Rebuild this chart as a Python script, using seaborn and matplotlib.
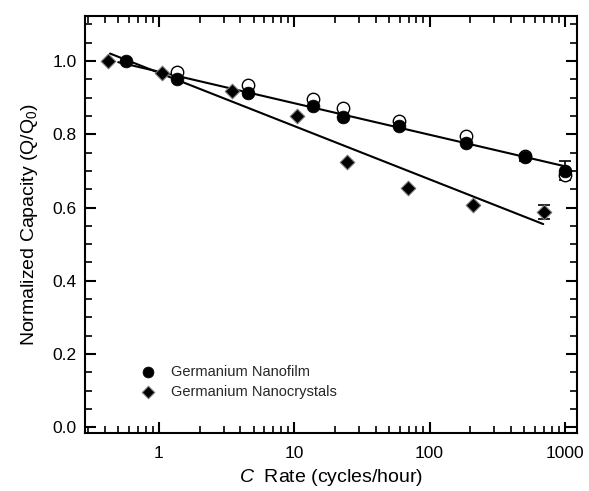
import numpy as np
import pandas as pd
import matplotlib
matplotlib.use("Agg")
import matplotlib.pyplot as plt
import seaborn as sns

# --- data ---
film_rate = [0.567, 1.37, 4.57, 13.8, 23.0, 59.7, 185, 507, 1000]
film_cap = [1.000, 0.951, 0.913, 0.877, 0.848, 0.822, 0.777, 0.737, 0.700]
film_err = [0, 0, 0, 0, 0, 0, 0, 0.010, 0.026]
film_open_rate = [1.37, 4.57, 13.8, 23.0, 59.7, 185, 507, 1000]
film_open_cap = [0.971, 0.936, 0.897, 0.873, 0.837, 0.795, 0.740, 0.690]

nc_rate = [0.42, 1.05, 3.48, 10.4, 24.4, 69.6, 208, 701]
nc_cap = [1.000, 0.968, 0.918, 0.850, 0.725, 0.653, 0.608, 0.588]
nc_err = [0, 0, 0, 0, 0, 0, 0, 0.020]

# linear fits in log10(rate): y = a + b*log10(x)
film_fit_a, film_fit_b = 0.971, -0.0861
film_fit_range = [0.5, 1050]
nc_fit_a, nc_fit_b = 0.968, -0.1455
nc_fit_range = [0.435, 692]

x_ticks = [1, 10, 100, 1000]
x_ticklabels = ["1", "10", "100", "1000"]
y_ticks = [0.0, 0.2, 0.4, 0.6, 0.8, 1.0]

sns.set_theme(style="ticks")
plt.rcParams["font.family"] = ["Liberation Sans", "DejaVu Sans"]
plt.rcParams["mathtext.fontset"] = "custom"
plt.rcParams["mathtext.rm"] = "Liberation Sans"
plt.rcParams["mathtext.it"] = "Liberation Sans:italic"

fig = plt.figure(figsize=(5.89, 4.91), dpi=100)
ax = fig.add_axes([85 / 589, 1 - 433 / 491, (577 - 85) / 589, (433 - 15.7) / 491])

# fit lines
xf1 = np.logspace(np.log10(film_fit_range[0]), np.log10(film_fit_range[1]), 50)
xf2 = np.logspace(np.log10(nc_fit_range[0]), np.log10(nc_fit_range[1]), 50)
fit_df1 = pd.DataFrame({"x": xf1, "y": film_fit_a + film_fit_b * np.log10(xf1)})
fit_df2 = pd.DataFrame({"x": xf2, "y": nc_fit_a + nc_fit_b * np.log10(xf2)})
sns.lineplot(data=fit_df1, x="x", y="y", color="black", lw=1.5, ax=ax, zorder=2)
sns.lineplot(data=fit_df2, x="x", y="y", color="black", lw=1.5, ax=ax, zorder=2)

# error bars
ax.errorbar(film_rate, film_cap, yerr=film_err, fmt="none", ecolor="black",
            elinewidth=1.2, capsize=4, capthick=1.2, zorder=3)
ax.errorbar(nc_rate, nc_cap, yerr=nc_err, fmt="none", ecolor="black",
            elinewidth=1.2, capsize=4, capthick=1.2, zorder=3)

# open circles
df_open = pd.DataFrame({"x": film_open_rate, "y": film_open_cap})
sns.scatterplot(data=df_open, x="x", y="y", marker="o", s=80, facecolor="white",
                edgecolor="black", linewidth=1.0, ax=ax, zorder=3)

df_film = pd.DataFrame({"x": film_rate, "y": film_cap})
df_nc = pd.DataFrame({"x": nc_rate, "y": nc_cap})
sns.scatterplot(data=df_film, x="x", y="y", marker="o", s=85, color="black",
                edgecolor="black", linewidth=0.5, ax=ax, zorder=4, label="Germanium Nanofilm")
sns.scatterplot(data=df_nc, x="x", y="y", marker="D", s=55, color="black",
                edgecolor="#777777", linewidth=0.8, ax=ax, zorder=4, label="Germanium Nanocrystals")

ax.set_xscale("log")
ax.set_xlim(0.284, 1230)
ax.set_ylim(-0.016, 1.124)
ax.set_xticks(x_ticks)
ax.set_xticklabels(x_ticklabels)
ax.set_yticks(y_ticks)
ax.set_yticklabels([f"{v:.1f}" for v in y_ticks])
ax.yaxis.set_minor_locator(matplotlib.ticker.MultipleLocator(0.05))
ax.xaxis.set_minor_locator(matplotlib.ticker.LogLocator(base=10, subs=np.arange(2, 10)))
ax.xaxis.set_minor_formatter(matplotlib.ticker.NullFormatter())

ax.tick_params(which="both", direction="in", top=True, right=True, color="black",
               labelsize=12.5, labelcolor="black")
ax.tick_params(which="major", length=8, width=1.5, pad=6)
ax.tick_params(axis="x", which="major", pad=9)
ax.tick_params(which="minor", length=5, width=1.2)
for sp in ax.spines.values():
    sp.set_linewidth(1.5)
    sp.set_color("black")

ax.set_xlabel("$\\mathit{C}$  Rate (cycles/hour)", fontsize=14, color="black", labelpad=5)
ax.set_ylabel("Normalized Capacity (Q/Q$_0$)", fontsize=14, color="black", labelpad=9)

leg = ax.legend(loc="lower left", bbox_to_anchor=(0.072, 0.051), frameon=False,
                fontsize=10.5, handletextpad=0.6, labelspacing=0.4, markerscale=0.85)

fig.savefig("out.png", dpi=100)
